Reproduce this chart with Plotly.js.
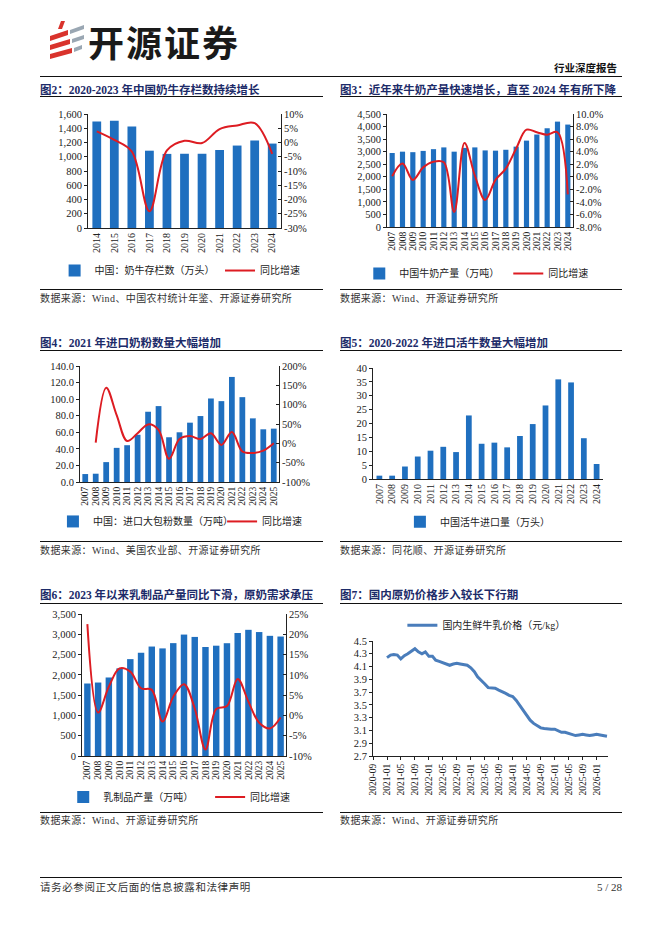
<!DOCTYPE html>
<html><head><meta charset="utf-8">
<script src="https://cdn.plot.ly/plotly-3.0.1.min.js"></script>
<style>
body{margin:0;background:#fff;}
#page{position:relative;width:662px;height:936px;overflow:hidden;background:#fff;font-family:'Liberation Serif','Noto Sans CJK SC',serif;}
.title{position:absolute;font-size:11.5px;line-height:14px;font-weight:bold;color:#1c2b69;white-space:nowrap;}
.rule{position:absolute;height:0;border-top:1.4px solid #111;}
.thin{border-top:1px solid #111;}
.src{position:absolute;font-size:10px;line-height:12px;color:#333;white-space:nowrap;letter-spacing:0.4px;}
.chart{position:absolute;}
</style></head>
<body><div id="page">
<svg style="position:absolute;left:0;top:0" width="100" height="70">
 <polygon points="61,21 65,21 62,29 58,29" fill="#d9332c"/>
 <polygon points="50,36 68,30 68,35 50,41" fill="#d9332c"/>
 <polygon points="50,45 70,39 70,44 50,50" fill="#d9332c"/>
 <polygon points="50,54 72,48 72,53 50,59" fill="#d9332c"/>
 <polygon points="70,30 84,25 84,29 70,34" fill="#9aa7b3"/>
 <polygon points="72,39 84,35 84,39 72,43" fill="#9aa7b3"/>
 <polygon points="74,48 82,45 82,49 74,52" fill="#9aa7b3"/>
</svg>
<div style="position:absolute;left:88px;top:19px;font-family:'Noto Sans CJK SC',sans-serif;font-weight:bold;font-size:36px;line-height:44px;color:#1a1a1a;letter-spacing:2px;">开源证券</div>
<div style="position:absolute;right:45px;top:61px;font-family:'Noto Sans CJK SC',serif;font-weight:bold;font-size:10.5px;line-height:13px;color:#111;">行业深度报告</div>
<div class="rule" style="left:40px;width:582px;top:76px;"></div>

<div class="title" style="left:40px;top:83px;">图2：2020-2023 年中国奶牛存栏数持续增长</div>
<div class="rule" style="left:40px;width:283px;top:96px;"></div>
<div class="title" style="left:340px;top:83px;">图3：近年来牛奶产量快速增长，直至 2024 年有所下降</div>
<div class="rule" style="left:340px;width:282px;top:96px;"></div>
<div id="c2" class="chart" style="left:30px;top:100px;width:300px;height:185px;"></div>
<div id="c3" class="chart" style="left:330px;top:100px;width:300px;height:185px;"></div>
<div class="rule thin" style="left:40px;width:283px;top:289px;"></div>
<div class="src" style="left:40px;top:293px;">数据来源：Wind、中国农村统计年鉴、开源证券研究所</div>
<div class="rule thin" style="left:340px;width:282px;top:289px;"></div>
<div class="src" style="left:340px;top:293px;">数据来源：Wind、开源证券研究所</div>

<div class="title" style="left:40px;top:336px;">图4：2021 年进口奶粉数量大幅增加</div>
<div class="rule" style="left:40px;width:283px;top:350px;"></div>
<div class="title" style="left:340px;top:336px;">图5：2020-2022 年进口活牛数量大幅增加</div>
<div class="rule" style="left:340px;width:282px;top:350px;"></div>
<div id="c4" class="chart" style="left:30px;top:353px;width:300px;height:185px;"></div>
<div id="c5" class="chart" style="left:330px;top:353px;width:300px;height:185px;"></div>
<div class="rule thin" style="left:40px;width:283px;top:541px;"></div>
<div class="src" style="left:40px;top:545px;">数据来源：Wind、美国农业部、开源证券研究所</div>
<div class="rule thin" style="left:340px;width:282px;top:541px;"></div>
<div class="src" style="left:340px;top:545px;">数据来源：同花顺、开源证券研究所</div>

<div class="title" style="left:40px;top:588px;">图6：2023 年以来乳制品产量同比下滑，原奶需求承压</div>
<div class="rule" style="left:40px;width:283px;top:603px;"></div>
<div class="title" style="left:340px;top:588px;">图7：国内原奶价格步入较长下行期</div>
<div class="rule" style="left:340px;width:282px;top:603px;"></div>
<div id="c6" class="chart" style="left:30px;top:606px;width:300px;height:200px;"></div>
<div id="c7" class="chart" style="left:330px;top:606px;width:300px;height:200px;"></div>
<div class="rule thin" style="left:40px;width:283px;top:812px;"></div>
<div class="src" style="left:40px;top:815px;">数据来源：Wind、开源证券研究所</div>
<div class="rule thin" style="left:340px;width:282px;top:812px;"></div>
<div class="src" style="left:340px;top:815px;">数据来源：Wind、开源证券研究所</div>

<div class="rule" style="left:40px;width:582px;top:877px;"></div>
<div class="src" style="left:40px;top:882px;font-size:10.5px;letter-spacing:0.6px;">请务必参阅正文后面的信息披露和法律声明</div>
<div class="src" style="right:40px;top:881px;font-size:11px;letter-spacing:0;">5 / 28</div>
</div>
<script>
// ---------- data ----------
const c2Years = ['2014','2015','2016','2017','2018','2019','2020','2021','2022','2023','2024'];
const c2Herd  = [1495,1507,1423,1085,1040,1042,1042,1095,1157,1228,1185];
const c2Yoy   = [3.9,0.9,-3.2,-24.1,-2.8,0.6,-0.2,4.7,6.0,6.8,-4.0];
const c2RightVals = [10,5,0,-5,-10,-15,-20,-25,-30];
const c2RightText = ['10%','5%','0%','-5%','-10%','-15%','-20%','-25%','-30%'];

const c3Years = ['2007','2008','2009','2010','2011','2012','2013','2014','2015','2016','2017','2018','2019','2020','2021','2022','2023','2024'];
const c3Milk  = [2947,3000,2980,3030,3100,3170,3000,3150,3170,3050,3040,3075,3201,3440,3683,3932,4197,4079];
const c3Yoy   = [0.1,2.1,-0.5,1.5,2.4,2.3,-5.6,5.4,0.2,-3.7,-0.5,1.3,4.5,7.5,7.1,6.7,7.1,-2.8];
const c3RightVals = [10,8,6,4,2,0,-2,-4,-6,-8];
const c3RightText = ['10.0%','8.0%','6.0%','4.0%','2.0%','0.0%','-2.0%','-4.0%','-6.0%','-8.0%'];

const c4Years = ['2007','2008','2009','2010','2011','2012','2013','2014','2015','2016','2017','2018','2019','2020','2021','2022','2023','2024','2025'];
const c4Powder = [9.6,10.0,24.0,41.2,44.4,57.0,84.8,91.6,54.0,60.0,71.6,79.6,100.8,97.6,126.8,102.4,76.8,63.6,64.4];
const c4Yoy    = [null,2,144,73,6,26,49,35,-40,11,19,11,26,-4,29,-21,-25,-19,0];
const c4RightVals = [200,150,100,50,0,-50,-100];
const c4RightText = ['200%','150%','100%','50%','0%','-50%','-100%'];

const c5Years = ['2007','2008','2009','2010','2011','2012','2013','2014','2015','2016','2017','2018','2019','2020','2021','2022','2023','2024'];
const c5Cattle = [1.2,1.2,4.5,8.1,10.2,11.6,9.7,22.9,12.7,13.1,11.4,15.5,19.8,26.5,35.9,34.8,14.7,5.4];

const c6Years = ['2007','2008','2009','2010','2011','2012','2013','2014','2015','2016','2017','2018','2019','2020','2021','2022','2023','2024','2025'];
const c6Dairy = [1787,1811,1935,2160,2388,2545,2698,2652,2782,2993,2935,2687,2719,2780,3032,3110,3055,2962,2945];
const c6Yoy   = [22.5,0.7,7.1,11.6,10.8,6.7,6.3,-1.5,4.6,7.7,1.7,-8.4,1.6,2.3,9.0,3.4,-1.8,-3.2,-0.5];
const c6RightVals = [25,20,15,10,5,0,-5,-10];
const c6RightText = ['25%','20%','15%','10%','5%','0%','-5%','-10%'];

const c7Months = ['2021-01','2021-02','2021-03','2021-04','2021-05','2021-06','2021-07','2021-08','2021-09','2021-10','2021-11','2021-12',
 '2022-01','2022-02','2022-03','2022-04','2022-05','2022-06','2022-07','2022-08','2022-09','2022-10','2022-11','2022-12',
 '2023-01','2023-02','2023-03','2023-04','2023-05','2023-06','2023-07','2023-08','2023-09','2023-10','2023-11','2023-12',
 '2024-01','2024-02','2024-03','2024-04','2024-05','2024-06','2024-07','2024-08','2024-09','2024-10','2024-11','2024-12',
 '2025-01','2025-02','2025-03','2025-04','2025-05','2025-06','2025-07','2025-08','2025-09','2025-10','2025-11','2025-12',
 '2026-01','2026-02','2026-03','2026-04'];
const c7Price = [4.24,4.28,4.29,4.28,4.22,4.27,4.30,4.34,4.38,4.33,4.30,4.33,
 4.26,4.26,4.20,4.18,4.16,4.13,4.12,4.14,4.15,4.14,4.13,4.12,
 4.08,4.02,3.94,3.89,3.83,3.77,3.76,3.76,3.73,3.71,3.68,3.65,
 3.63,3.57,3.50,3.42,3.34,3.26,3.21,3.18,3.14,3.13,3.12,3.12,
 3.12,3.09,3.07,3.07,3.05,3.03,3.02,3.03,3.04,3.03,3.02,3.03,
 3.04,3.03,3.02,3.01];

// ---------- style ----------
const FONT = "'Liberation Serif','Noto Sans CJK SC',serif";
const LFONT = {family:"'Liberation Serif','Noto Sans CJK SC',serif", size:10, color:'#222'};
const BLUE = '#1f6fbf', RED = '#dd1c22', STEEL = '#4a7dbb';
function ax(extra){
  return Object.assign({showline:true, linecolor:'#222', linewidth:1, ticks:'outside', ticklen:3, tickcolor:'#222',
    showgrid:false, zeroline:false, tickfont:{family:FONT, size:10.5, color:'#222'}, fixedrange:true}, extra);
}
function xcat(years, size){
  return ax({type:'category', ticks:'', tickangle:-90, tickmode:'array', tickvals:years, ticktext:years,
    tickfont:{family:FONT, size:size, color:'#222'}});
}
function leg(x, y){
  return {orientation:'h', x:x, y:y, xanchor:'left', yanchor:'middle', font:LFONT, bgcolor:'rgba(0,0,0,0)', borderwidth:0, itemclick:false};
}
function base(w,h,m){
  return {width:w, height:h, margin:Object.assign({pad:0, autoexpand:false}, m),
    paper_bgcolor:'rgba(0,0,0,0)', plot_bgcolor:'rgba(0,0,0,0)', showlegend:true, font:{family:FONT, size:10, color:'#222'}};
}
const cfg = {staticPlot:true, displayModeBar:false};

// Chart 2
Plotly.newPlot('c2', [
  {type:'bar', x:c2Years, y:c2Herd, name:'中国：奶牛存栏数（万头）', marker:{color:BLUE}, legend:'legend'},
  {type:'scatter', mode:'lines', x:c2Years, y:c2Yoy, yaxis:'y2', name:'同比增速', line:{color:RED, width:2, shape:'spline'}, legend:'legend2'}
], Object.assign(base(300,185,{l:58,r:49,t:14,b:57}), {
  bargap:0.5,
  xaxis:xcat(c2Years, 10),
  yaxis:ax({range:[0,1600], dtick:200, tickformat:','}),
  yaxis2:ax({overlaying:'y', side:'right', range:[-30,10], tickvals:c2RightVals, ticktext:c2RightText, ticks:'inside'}),
  legend:leg(-0.173,-0.373), legend2:leg(0.684,-0.373)
}), cfg);

// Chart 3
Plotly.newPlot('c3', [
  {type:'bar', x:c3Years, y:c3Milk, name:'中国牛奶产量（万吨）', marker:{color:BLUE}, legend:'legend'},
  {type:'scatter', mode:'lines', x:c3Years, y:c3Yoy, yaxis:'y2', name:'同比增速', line:{color:RED, width:2, shape:'spline'}, legend:'legend2'}
], Object.assign(base(300,185,{l:57,r:57,t:14,b:58}), {
  bargap:0.5,
  xaxis:xcat(c3Years, 9.5),
  yaxis:ax({range:[0,4500], dtick:500, tickformat:','}),
  yaxis2:ax({overlaying:'y', side:'right', range:[-8,10], tickvals:c3RightVals, ticktext:c3RightText, ticks:'inside'}),
  legend:leg(-0.149,-0.412), legend2:leg(0.652,-0.412)
}), cfg);

// Chart 4
Plotly.newPlot('c4', [
  {type:'bar', x:c4Years, y:c4Powder, name:'中国：进口大包粉数量（万吨）', marker:{color:BLUE}, legend:'legend'},
  {type:'scatter', mode:'lines', x:c4Years, y:c4Yoy, yaxis:'y2', name:'同比增速', line:{color:RED, width:2, shape:'spline'}, legend:'legend2'}
], Object.assign(base(300,185,{l:50,r:51,t:13,b:56}), {
  bargap:0.45,
  xaxis:xcat(c4Years, 9.5),
  yaxis:ax({range:[0,140], dtick:20, tickformat:'.1f'}),
  yaxis2:ax({overlaying:'y', side:'right', range:[-100,200], tickvals:c4RightVals, ticktext:c4RightText, ticks:'inside'}),
  legend:leg(-0.136,-0.340), legend2:leg(0.714,-0.340)
}), cfg);

// Chart 5
Plotly.newPlot('c5', [
  {type:'bar', x:c5Years, y:c5Cattle, name:'中国活牛进口量（万头）', marker:{color:BLUE}, legend:'legend'}
], Object.assign(base(300,185,{l:43,r:27,t:15,b:59}), {
  bargap:0.55,
  xaxis:xcat(c5Years, 10),
  yaxis:ax({range:[0,40], dtick:5}),
  legend:leg(0.117,-0.386)
}), cfg);

// Chart 6
Plotly.newPlot('c6', [
  {type:'bar', x:c6Years, y:c6Dairy, name:'乳制品产量（万吨）', marker:{color:BLUE}, legend:'legend'},
  {type:'scatter', mode:'lines', x:c6Years, y:c6Yoy, yaxis:'y2', name:'同比增速', line:{color:RED, width:2, shape:'spline'}, legend:'legend2'}
], Object.assign(base(300,200,{l:52,r:44,t:8,b:50}), {
  bargap:0.4,
  xaxis:xcat(c6Years, 9.5),
  yaxis:ax({range:[0,3500], dtick:500, tickformat:','}),
  yaxis2:ax({overlaying:'y', side:'right', range:[-10,25], tickvals:c6RightVals, ticktext:c6RightText, ticks:'inside'}),
  legend:leg(-0.092,-0.289), legend2:leg(0.628,-0.289)
}), cfg);

// Chart 7
Plotly.newPlot('c7', [
  {type:'scatter', mode:'lines', x:c7Months, y:c7Price, name:'国内生鲜牛乳价格（元/kg）', line:{color:STEEL, width:3}, legend:'legend'}
], Object.assign(base(300,200,{l:43,r:22,t:35,b:50}), {
  xaxis:ax({type:'date', range:['2020-09-01','2026-04-10'], tick0:'2020-09-01', dtick:'M4', tickformat:'%Y-%m', tickangle:-90,
    tickfont:{family:FONT, size:9.5, color:'#222'}}),
  yaxis:ax({range:[2.7,4.5], dtick:0.2, tick0:2.7, tickformat:'.1f'}),
  legend:leg(0.125,1.136)
}), cfg);
</script>
</body></html>
